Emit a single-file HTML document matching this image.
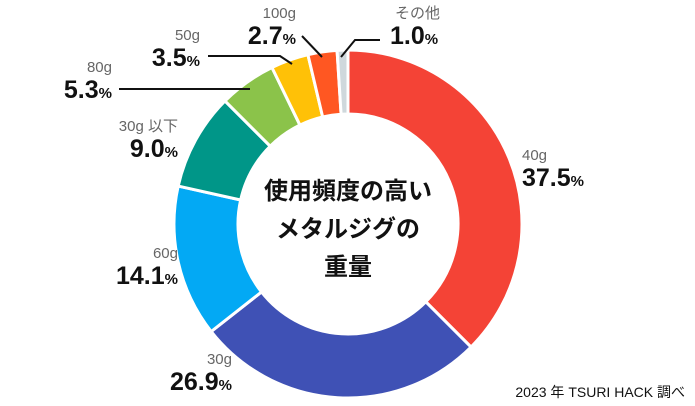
<!DOCTYPE html>
<html><head><meta charset="utf-8"><style>
html,body{margin:0;padding:0;background:#fff;}
svg{display:block;font-family:"Liberation Sans","Noto Sans CJK JP",sans-serif;}
.g{fill:#666;font-size:15px;}
.b{fill:#111;font-size:25px;font-weight:bold;}
.p{font-size:15px;}
.c{fill:#111;font-size:24px;font-weight:bold;}
</style></head><body>
<svg id="chart" width="695" height="406" viewBox="0 0 695 406">
<g id="slices"></g>
<g>
<text class="c" x="348" y="199" text-anchor="middle">使用頻度の高い</text>
<text class="c" x="348" y="237" text-anchor="middle">メタルジグの</text>
<text class="c" x="348" y="275" text-anchor="middle">重量</text>
</g>
<g stroke="#111" stroke-width="2" fill="none">
<polyline points="119,89 250,89"/>
<polyline points="208,56 280,56 292,64"/>
<polyline points="302,36 322,57"/>
<polyline points="341,57 355,40 380,40"/>
</g>
<g id="labels"></g>
<text x="685" y="397" text-anchor="end" font-size="14" fill="#111">2023 年 TSURI HACK 調べ</text>
</svg>
<script>
const categories=["40g","30g","60g","30g 以下","80g","50g","100g","その他"];
const values=[37.5,26.9,14.1,9.0,5.3,3.5,2.7,1.0];
const valueLabels=["37.5","26.9","14.1","9.0","5.3","3.5","2.7","1.0"];
const colors=["#f44336","#3f51b5","#03a9f4","#009688","#8bc34a","#ffc107","#ff5722","#cfd8dc"];
const NS="http://www.w3.org/2000/svg";
const cx=348,cy=224,R=174,r=110;
const total=values.reduce((a,b)=>a+b,0);
function pt(ang,rad){return [cx+rad*Math.sin(ang),cy-rad*Math.cos(ang)];}
const sg=document.getElementById('slices');
let acc=0;
values.forEach((v,i)=>{
 const a0=acc/total*2*Math.PI,a1=(acc+v)/total*2*Math.PI;acc+=v;
 const large=(a1-a0)>Math.PI?1:0;
 const p0=pt(a0,R),p1=pt(a1,R),q1=pt(a1,r),q0=pt(a0,r);
 const p=document.createElementNS(NS,'path');
 p.setAttribute('d',`M${p0[0]},${p0[1]}A${R},${R} 0 ${large} 1 ${p1[0]},${p1[1]}L${q1[0]},${q1[1]}A${r},${r} 0 ${large} 0 ${q0[0]},${q0[1]}Z`);
 p.setAttribute('fill',colors[i]);p.setAttribute('stroke','#fff');p.setAttribute('stroke-width','3');
 
 
 sg.appendChild(p);
});
// label anchor positions (layout, not data)
const pos=[[522,160,'start'],[232,364,'end'],[178,258,'end'],[178,131,'end'],[112,72,'end'],[200,40,'end'],[296,18,'end'],[390,18,'start']];
const lg=document.getElementById('labels');
categories.forEach((c,i)=>{
 const [x,y,anc]=pos[i];
 const t=document.createElementNS(NS,'text');
 t.setAttribute('class','g');t.setAttribute('x',i==7?x+5:x);t.setAttribute('y',y);t.setAttribute('text-anchor',anc);
 t.textContent=c;
 
 
 lg.appendChild(t);
 const b=document.createElementNS(NS,'text');
 b.setAttribute('class','b');b.setAttribute('x',x);b.setAttribute('y',y+26);b.setAttribute('text-anchor',anc);
 b.innerHTML=valueLabels[i]+'<tspan class="p">%</tspan>';
 
 
 lg.appendChild(b);
});
</script>
</body></html>
